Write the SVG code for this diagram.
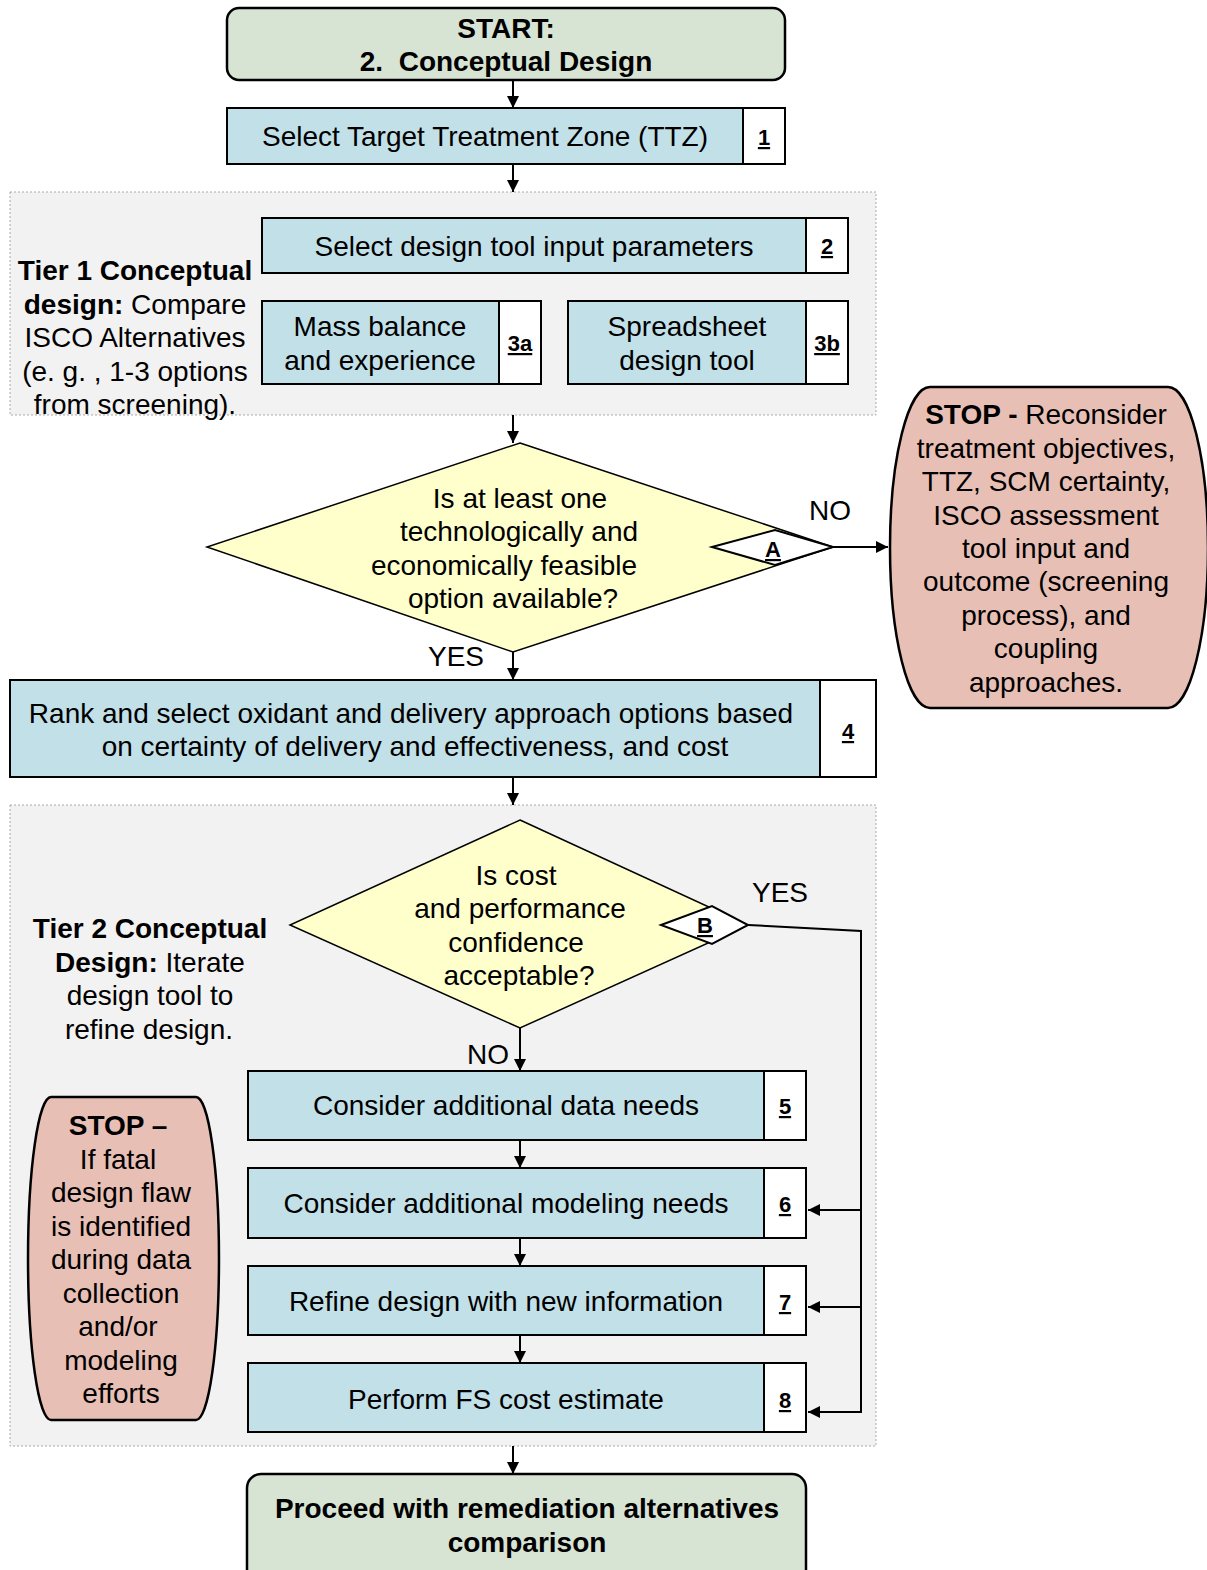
<svg xmlns="http://www.w3.org/2000/svg" width="1207" height="1570" viewBox="0 0 1207 1570">
<style>
text{font-family:"Liberation Sans",Arial,sans-serif;font-size:28px;fill:#000}
.b{font-weight:bold}
.c{text-anchor:middle}
.n{font-weight:bold;text-decoration:underline;text-anchor:middle;font-size:22px}
.blue{fill:#c2e0e8;stroke:#000;stroke-width:2}
.num{fill:#fff;stroke:#000;stroke-width:2}
.green{fill:#d7e4d4;stroke:#000;stroke-width:2.5}
.dia{fill:#ffffcc;stroke:#000;stroke-width:1.5}
.stop{fill:#e8bfb5;stroke:#000;stroke-width:2.5}
.region{fill:#f2f2f2;stroke:#aaa;stroke-width:1;stroke-dasharray:2 2}
.ln{fill:none;stroke:#000;stroke-width:2}
</style>
<defs>
<marker id="ah" markerUnits="userSpaceOnUse" markerWidth="12" markerHeight="12" refX="12" refY="6" orient="auto">
<path d="M0,0 L12,6 L0,12 z" fill="#000"/>
</marker>
</defs>
<rect width="1207" height="1570" fill="#fff"/>
<g id="tier1">
<rect class="region" x="10" y="192" width="866" height="223"/>
<text class="c"><tspan x="135" y="280" class="b">Tier 1 Conceptual</tspan><tspan x="135" y="314"><tspan class="b">design:</tspan>  Compare</tspan><tspan x="135" y="347">ISCO Alternatives</tspan><tspan x="135" y="381">(e. g. , 1-3 options</tspan><tspan x="135" y="414">from screening).</tspan></text>
</g>
<g id="tier2">
<rect class="region" x="10" y="805" width="866" height="641"/>
<text class="c"><tspan x="150" y="938" class="b">Tier 2 Conceptual</tspan><tspan x="150" y="972"><tspan class="b">Design:</tspan>  Iterate</tspan><tspan x="150" y="1005">design tool to</tspan><tspan x="149" y="1039">refine design.</tspan></text>
</g>
<g id="start">
<rect class="green" x="227" y="8" width="558" height="72" rx="12"/>
<text class="c b" x="506" y="38">START:</text>
<text class="c b" x="506" y="71" xml:space="preserve">2.  Conceptual Design</text>
</g>
<g id="n1">
<rect class="blue" x="227" y="108" width="516" height="56"/>
<rect class="num" x="743" y="108" width="42" height="56"/>
<text class="c" x="485" y="146">Select Target Treatment Zone (TTZ)</text>
<text class="n" x="764" y="145">1</text>
</g>
<g id="n2">
<rect class="blue" x="262" y="218" width="544" height="55"/>
<rect class="num" x="806" y="218" width="42" height="55"/>
<text class="c" x="534" y="256">Select design tool input parameters</text>
<text class="n" x="827" y="254">2</text>
</g>
<g id="n3a">
<rect class="blue" x="262" y="301" width="237" height="83"/>
<rect class="num" x="499" y="301" width="42" height="83"/>
<text class="c" x="380" y="336">Mass balance</text>
<text class="c" x="380" y="370">and experience</text>
<text class="n" x="520" y="351">3a</text>
</g>
<g id="n3b">
<rect class="blue" x="568" y="301" width="238" height="83"/>
<rect class="num" x="806" y="301" width="42" height="83"/>
<text class="c" x="687" y="336">Spreadsheet</text>
<text class="c" x="687" y="370">design tool</text>
<text class="n" x="827" y="351">3b</text>
</g>
<g id="decA">
<polygon class="dia" points="520,443 833,547 513,652 207,547"/>
<polygon class="dia" points="712,547 775,530 833,547 775,565" style="fill:#fff;stroke-width:2"/>
<text class="c" x="520" y="508">Is at least one</text>
<text class="c" x="519" y="541">technologically and</text>
<text class="c" x="504" y="575">economically feasible</text>
<text class="c" x="513" y="608">option available?</text>
<text class="n" x="773" y="557">A</text>
</g>
<g id="stopA">
<path class="stop" d="M930,387 H1168 A40,160.5 0 0 1 1168,708 H930 A40,160.5 0 0 1 930,387 Z"/>
<text class="c"><tspan x="1046" y="424"><tspan class="b">STOP - </tspan>Reconsider</tspan><tspan x="1046" y="458">treatment objectives,</tspan><tspan x="1046" y="491">TTZ, SCM certainty,</tspan><tspan x="1046" y="525">ISCO assessment</tspan><tspan x="1046" y="558">tool input and</tspan><tspan x="1046" y="591">outcome (screening</tspan><tspan x="1046" y="625">process), and</tspan><tspan x="1046" y="658">coupling</tspan><tspan x="1046" y="692">approaches.</tspan></text>
</g>
<g id="n4">
<rect class="blue" x="10" y="680" width="810" height="97"/>
<rect class="num" x="820" y="680" width="56" height="97"/>
<text class="c" x="411" y="723">Rank and select oxidant and delivery approach options based</text>
<text class="c" x="415" y="756">on certainty of delivery and effectiveness, and cost</text>
<text class="n" x="848" y="739">4</text>
</g>
<g id="decB">
<polygon class="dia" points="520,820 748,925 520,1028 290,925"/>
<polygon class="dia" points="661,925 712,906 748,925 712,944" style="fill:#fff;stroke-width:2"/>
<text class="c" x="516" y="885">Is cost</text>
<text class="c" x="520" y="918">and performance</text>
<text class="c" x="516" y="952">confidence</text>
<text class="c" x="519" y="985">acceptable?</text>
<text class="n" x="705" y="933">B</text>
</g>
<g id="stopB">
<path class="stop" d="M51,1097 H196 A23,161.5 0 0 1 196,1420 H51 A23,161.5 0 0 1 51,1097 Z"/>
<text class="c"><tspan x="118" y="1135" class="b">STOP –</tspan><tspan x="118" y="1169">If fatal</tspan><tspan x="121" y="1202">design flaw</tspan><tspan x="121" y="1236">is identified</tspan><tspan x="121" y="1269">during data</tspan><tspan x="121" y="1303">collection</tspan><tspan x="118" y="1336">and/or</tspan><tspan x="121" y="1370">modeling</tspan><tspan x="121" y="1403">efforts</tspan></text>
</g>
<g id="n5">
<rect class="blue" x="248" y="1071" width="516" height="69"/>
<rect class="num" x="764" y="1071" width="42" height="69"/>
<text class="c" x="506" y="1115">Consider additional data needs</text>
<text class="n" x="785" y="1114">5</text>
</g>
<g id="n6">
<rect class="blue" x="248" y="1168" width="516" height="70"/>
<rect class="num" x="764" y="1168" width="42" height="70"/>
<text class="c" x="506" y="1213">Consider additional modeling needs</text>
<text class="n" x="785" y="1212">6</text>
</g>
<g id="n7">
<rect class="blue" x="248" y="1266" width="516" height="69"/>
<rect class="num" x="764" y="1266" width="42" height="69"/>
<text class="c" x="506" y="1311">Refine design with new information</text>
<text class="n" x="785" y="1310">7</text>
</g>
<g id="n8">
<rect class="blue" x="248" y="1363" width="516" height="69"/>
<rect class="num" x="764" y="1363" width="42" height="69"/>
<text class="c" x="506" y="1409">Perform FS cost estimate</text>
<text class="n" x="785" y="1408">8</text>
</g>
<g id="end">
<rect class="green" x="247" y="1474" width="559" height="110" rx="14"/>
<text class="c b" x="527" y="1518">Proceed with remediation alternatives</text>
<text class="c b" x="527" y="1552">comparison</text>
</g>
<g id="connectors">
<line class="ln" x1="513" y1="80" x2="513" y2="108" marker-end="url(#ah)"/>
<line class="ln" x1="513" y1="164" x2="513" y2="192" marker-end="url(#ah)"/>
<line class="ln" x1="513" y1="415" x2="513" y2="443" marker-end="url(#ah)"/>
<line class="ln" x1="833" y1="547" x2="888" y2="547" marker-end="url(#ah)"/>
<line class="ln" x1="513" y1="652" x2="513" y2="680" marker-end="url(#ah)"/>
<line class="ln" x1="513" y1="777" x2="513" y2="805" marker-end="url(#ah)"/>
<line class="ln" x1="520" y1="1028" x2="520" y2="1071" marker-end="url(#ah)"/>
<line class="ln" x1="520" y1="1140" x2="520" y2="1168" marker-end="url(#ah)"/>
<line class="ln" x1="520" y1="1238" x2="520" y2="1266" marker-end="url(#ah)"/>
<line class="ln" x1="520" y1="1335" x2="520" y2="1363" marker-end="url(#ah)"/>
<polyline class="ln" points="748,925 861,931 861,1412 808,1412" marker-end="url(#ah)"/>
<line class="ln" x1="861" y1="1210" x2="808" y2="1210" marker-end="url(#ah)"/>
<line class="ln" x1="861" y1="1307" x2="808" y2="1307" marker-end="url(#ah)"/>
<line class="ln" x1="513" y1="1446" x2="513" y2="1474" marker-end="url(#ah)"/>
<text x="830" y="520" class="c">NO</text>
<text x="456" y="666" class="c">YES</text>
<text x="780" y="902" class="c">YES</text>
<text x="488" y="1064" class="c">NO</text>
</g>
</svg>
